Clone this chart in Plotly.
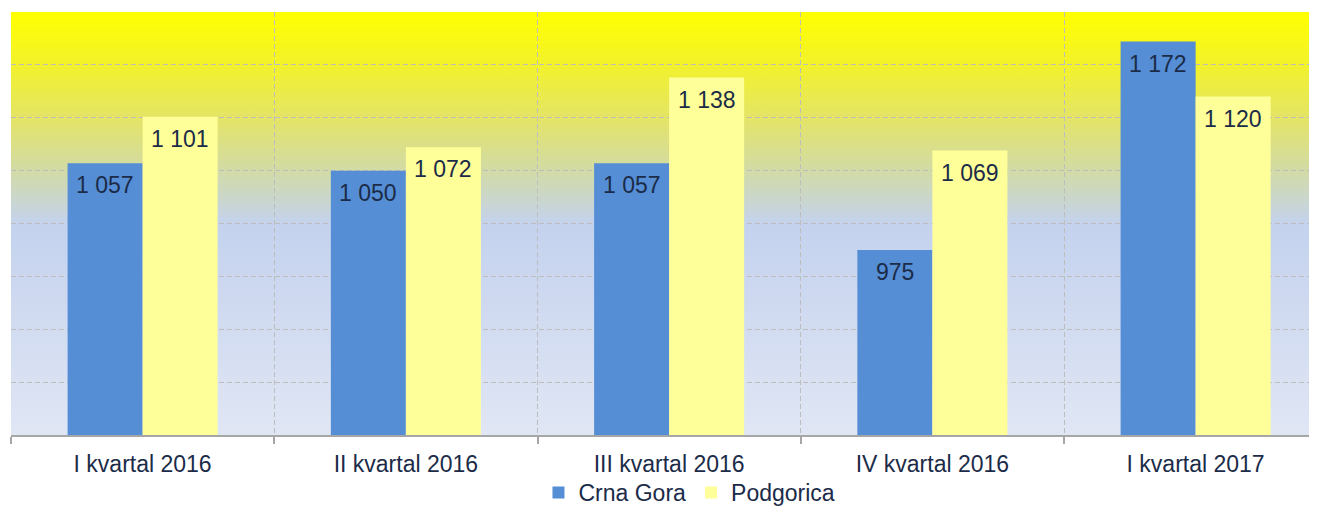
import base64
import plotly.graph_objects as go

categories = ["I kvartal 2016", "II kvartal 2016", "III kvartal 2016", "IV kvartal 2016", "I kvartal 2017"]
crna_gora = [1057, 1050, 1057, 975, 1172]
podgorica = [1101, 1072, 1138, 1069, 1120]
series_names = ["Crna Gora", "Podgorica"]

def fmt(v):
    return f"{v:,}".replace(",", " ")

BLUE = "#558ED5"
YELLOW = "#FFFF99"
TEXT = "#1B2B48"
FONT = "Liberation Sans, Arial, sans-serif"
BAR_W = 0.285

xs = list(range(len(categories)))

fig = go.Figure()
fig.add_trace(go.Bar(x=xs, y=crna_gora, name=series_names[0], marker=dict(color=BLUE, line=dict(width=0)),
                     width=BAR_W, offset=-BAR_W, hoverinfo="skip"))
fig.add_trace(go.Bar(x=xs, y=podgorica, name=series_names[1], marker=dict(color=YELLOW, line=dict(width=0)),
                     width=BAR_W, offset=0, hoverinfo="skip"))

annotations = []
for i, v in enumerate(crna_gora):
    annotations.append(dict(x=i - BAR_W / 2, y=v, text=fmt(v), showarrow=False, yanchor="top", yshift=-7,
                            font=dict(family=FONT, size=23, color=TEXT)))
for i, v in enumerate(podgorica):
    annotations.append(dict(x=i + BAR_W / 2, y=v, text=fmt(v), showarrow=False, yanchor="top", yshift=-7,
                            font=dict(family=FONT, size=23, color=TEXT)))

svg = """<svg xmlns='http://www.w3.org/2000/svg' width='100' height='100' preserveAspectRatio='none'>
<defs><linearGradient id='g' x1='0' y1='0' x2='0' y2='1'>
<stop offset='0' stop-color='#FFFF00'/>
<stop offset='0.125' stop-color='#F2F22C'/>
<stop offset='0.25' stop-color='#E4E466'/>
<stop offset='0.375' stop-color='#D2DBA6'/>
<stop offset='0.5' stop-color='#C4D2EE'/>
<stop offset='1' stop-color='#E0E6F4'/>
</linearGradient></defs>
<rect width='100' height='100' fill='url(#g)'/></svg>"""
src = "data:image/svg+xml;base64," + base64.b64encode(svg.encode()).decode()

# page body has an 8px margin; size the figure so the page does not overflow
W, H = 1301, 506
left, top = 3, 4
plot_bottom = 435 - 8
bottom = H - plot_bottom
group_px = 263.25
x_end = -0.5 + (W - left) / group_px

fig.update_layout(
    width=W, height=H,
    margin=dict(l=left, r=0, t=top, b=bottom, pad=0, autoexpand=False),
    paper_bgcolor="white",
    plot_bgcolor="rgba(0,0,0,0)",
    font=dict(family=FONT, size=23, color=TEXT),
    annotations=annotations,
    images=[dict(source=src, xref="paper", yref="paper", x=0, y=1, sizex=1, sizey=1,
                 xanchor="left", yanchor="top", sizing="stretch", layer="below")],
    showlegend=True,
    legend=dict(orientation="h", x=0.5227, xanchor="center", yref="container", y=-7 / H,
                yanchor="bottom",
                font=dict(family=FONT, size=23, color=TEXT), itemwidth=30,
                bgcolor="rgba(0,0,0,0)", traceorder="normal"),
    xaxis=dict(range=[-0.5, x_end], tickmode="array", tickvals=xs, ticktext=categories,
               showgrid=False, ticks="", zeroline=False, ticklabelstandoff=8, automargin=False,
               showline=True, linecolor="#A6A6A6", linewidth=1.5,
               tickfont=dict(family=FONT, size=23, color=TEXT),
               minor=dict(tick0=-0.5, dtick=1, showgrid=True, gridcolor="#BDBDBD", griddash="5px,3px",
                          gridwidth=1, ticks="outside", ticklen=7, tickcolor="#A6A6A6", tickwidth=1.5)),
    yaxis=dict(range=[800, 1200], dtick=50, showticklabels=False, showgrid=True, gridcolor="#BDBDBD",
               griddash="5px,3px", gridwidth=1, zeroline=False, showline=False, ticks="", automargin=False),
)

fig.write_html("out.html")
